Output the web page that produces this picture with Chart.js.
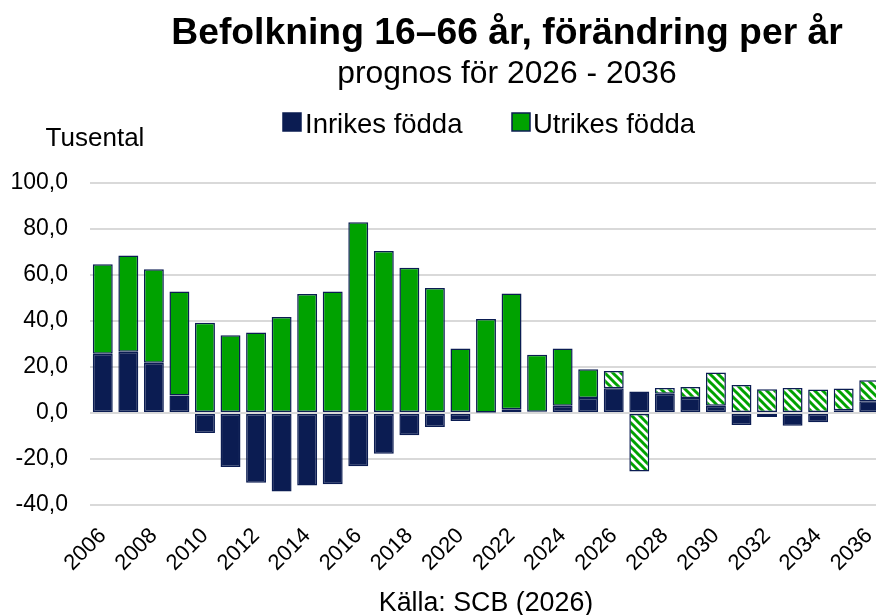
<!DOCTYPE html>
<html>
<head>
<meta charset="utf-8">
<script src="https://cdn.jsdelivr.net/npm/chart.js@4"></script>
<style>
  html, body { margin: 0; padding: 0; background: #fff; overflow: hidden; }
</style>
</head>
<body>
<canvas id="chart" width="882" height="615"></canvas>
<script>
const years = ['2006','2007','2008','2009','2010','2011','2012','2013','2014','2015',
  '2016','2017','2018','2019','2020','2021','2022','2023','2024','2025',
  '2026','2027','2028','2029','2030','2031','2032','2033','2034','2035','2036'];
const inrikes = [25.8, 26.6, 21.8, 7.6, -8.7, -23.5, -30.3, -34.1, -31.5, -31.0,
  -23.1, -17.7, -9.7, -6.1, -3.5, 0.2, 1.6, 0.5, 3.2, 6.5,
  10.8, 9.4, 8.4, 6.5, 3.2, -5.2, -1.7, -5.5, -4.0, 1.2, 5.1];
const utrikes = [38.9, 41.9, 40.7, 45.2, 39.2, 33.8, 35.0, 41.7, 51.7, 52.8,
  82.9, 70.4, 63.1, 54.4, 28.0, 40.7, 50.4, 24.8, 24.8, 12.5,
  7.5, -25.4, 2.5, 4.8, 14.4, 12.2, 10.3, 10.9, 10.2, 9.4, 9.1];
const firstForecast = '2026';

const NAVY = '#0b1c52';
const GREEN = '#00a200';
const FONT = 'Arial, "Liberation Sans", sans-serif';

// striped fill for forecast years
const pc = document.createElement('canvas');
pc.width = 8; pc.height = 8;
const p = pc.getContext('2d');
p.fillStyle = '#fff';
p.fillRect(0, 0, 8, 8);
p.strokeStyle = GREEN;
p.lineWidth = 3;
for (let x = -8; x <= 8; x += 8) {
  p.beginPath();
  p.moveTo(x - 2, -2);
  p.lineTo(x + 10, 10);
  p.stroke();
}
const hatch = document.getElementById('chart').getContext('2d').createPattern(pc, 'repeat');
const forecastIdx = years.indexOf(firstForecast);

const texts = {
  id: 'texts',
  afterDraw(chart) {
    const c = chart.ctx;
    c.save();
    c.fillStyle = '#000';
    c.textAlign = 'center';
    c.textBaseline = 'alphabetic';
    c.font = 'bold 37.3px ' + FONT;
    c.fillText('Befolkning 16–66 år, förändring per år', 507, 44);
    c.font = '31.8px ' + FONT;
    c.fillText('prognos för 2026 - 2036', 507, 83);
    c.font = '26px ' + FONT;
    c.fillText('Tusental', 95, 146);
    c.font = '26.8px ' + FONT;
    c.fillText('Källa: SCB (2026)', 486, 611);

    // legend
    c.textAlign = 'left';
    c.font = '27.5px ' + FONT;
    c.lineWidth = 1.5;
    c.strokeStyle = NAVY;
    c.fillStyle = NAVY;
    c.fillRect(283, 113, 18, 18);
    c.strokeRect(283, 113, 18, 18);
    c.fillStyle = GREEN;
    c.fillRect(512, 113, 18, 18);
    c.strokeRect(512, 113, 18, 18);
    c.fillStyle = '#000';
    c.fillText('Inrikes födda', 305, 133);
    c.fillText('Utrikes födda', 533, 133);
    c.restore();
  }
};

new Chart(document.getElementById('chart'), {
  type: 'bar',
  data: {
    labels: years,
    datasets: [{
      label: 'Inrikes födda',
      data: inrikes,
      backgroundColor: NAVY,
      borderColor: NAVY,
      borderWidth: 1.5,
      borderSkipped: false,
    }, {
      label: 'Utrikes födda',
      data: utrikes,
      backgroundColor: (ctx) => ctx.dataIndex >= forecastIdx ? hatch : GREEN,
      borderColor: NAVY,
      borderWidth: 1.5,
      borderSkipped: false,
    }],
  },
  options: {
    responsive: false,
    animation: false,
    layout: { padding: { top: 183, bottom: 40, left: 0, right: 0 } },
    datasets: { bar: { barPercentage: 0.78, categoryPercentage: 1 } },
    plugins: {
      legend: { display: false },
      title: { display: false },
      tooltip: { enabled: false },
    },
    scales: {
      x: {
        stacked: true,
        grid: { display: false },
        border: { display: false },
        afterFit: (s) => { s.height = 70; s.paddingLeft = 0; s.paddingRight = 0; },
        ticks: {
          autoSkip: false,
          minRotation: 45,
          maxRotation: 45,
          padding: 10,
          color: '#000',
          font: { family: FONT, size: 22 },
          callback: function (v, i) { return i % 2 === 0 ? this.getLabelForValue(v) : ''; },
        },
      },
      y: {
        stacked: true,
        min: -40,
        max: 100,
        afterFit: (s) => { s.width = 90; },
        grid: { color: '#d9d9d9', lineWidth: 2, drawTicks: false },
        border: { display: false },
        ticks: {
          stepSize: 20,
          padding: 22,
          color: '#000',
          font: { family: FONT, size: 23 },
          callback: (v) => v.toFixed(1).replace('.', ','),
        },
      },
    },
  },
  plugins: [texts],
});
</script>
</body>
</html>
